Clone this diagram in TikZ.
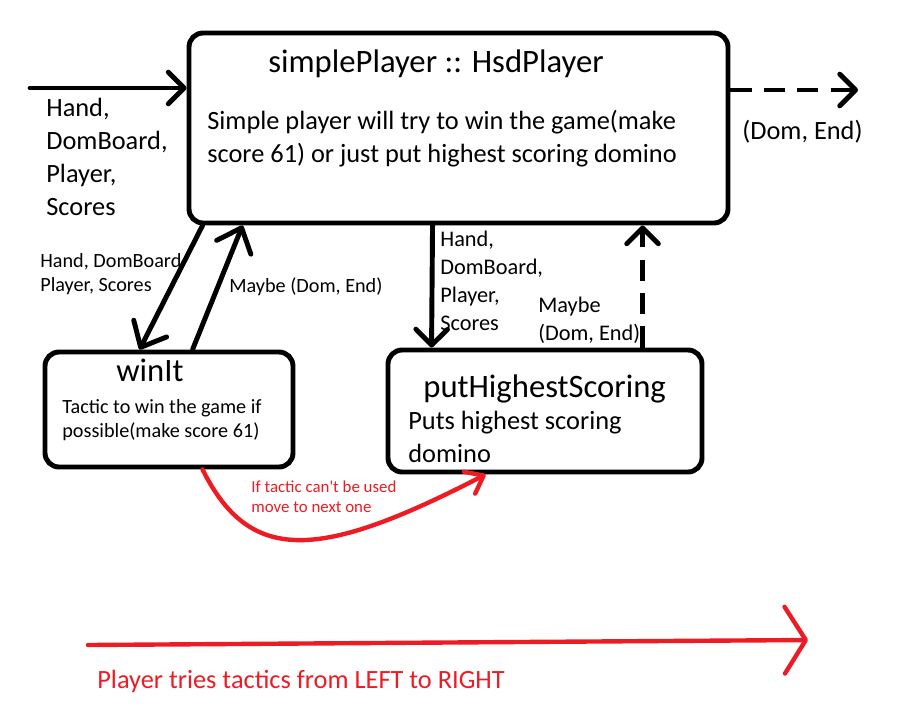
\documentclass[tikz,border=0pt]{standalone}
\usepackage{fontspec}
\setmainfont{Carlito}
\usepackage{tikz}
\usetikzlibrary{arrows.meta,positioning,calc,fit}
\definecolor{paintred}{RGB}{237,28,36}

\begin{document}
\begin{tikzpicture}[
  x=0.02cm, y=-0.02cm,
  block/.style={rectangle, draw, line width=2.8pt, rounded corners=8pt, inner sep=0pt},
  title/.style={anchor=base west, inner sep=0pt, font=\fontsize{18.6}{22}\selectfont},
  body/.style={anchor=base west, inner sep=0pt, align=left, font=\fontsize{15}{18.7}\selectfont},
  mid/.style={anchor=base west, inner sep=0pt, align=left, font=\fontsize{12.7}{15.9}\selectfont},
  small/.style={anchor=base west, inner sep=0pt, align=left, font=\fontsize{11.5}{13.6}\selectfont},
  arrow/.style={-{Straight Barb[length=9pt,width=18pt,round]}, line width=2.8pt, line cap=round},
  bigarrow/.style={-{Straight Barb[length=12pt,width=21pt,round]}, line width=2.8pt, line cap=round},
  dasharrow/.style={arrow, dash pattern=on 12pt off 7pt, line cap=butt},
  redarrow/.style={-{Straight Barb[length=12pt,width=38pt,round]}, line width=2.5pt,
                   paintred, line cap=round},
  redcurve/.style={-{Straight Barb[length=9pt,width=14pt,round]}, line width=2.5pt,
                   paintred, line cap=round}
]
\useasboundingbox (0,0) rectangle (908,717);

% boxes (multi-line texts sit on their last baseline)
\node[block, fit={(189,33) (728,223)}] (main) {};
\node[block, fit={(45,352) (293,467)}] (winit) {};
\node[block, fit={(388,350) (702,472)}] (puths) {};

\node[title] (maintitle) at (268,72) {simplePlayer :: HsdPlayer};
\node[body] (maintext) at (207,162) {Simple player will try to win the game(make\\score 61) or just put highest scoring domino};
\node[title] (wintitle) at (116,381) {winIt};
\node[small] (wintext) at (62,437) {Tactic to win the game if\\possible(make score 61)};
\node[title] (putstitle) at (423,397) {putHighestScoring};
\node[body] (putstext) at (408,462) {Puts highest scoring\\domino};

% input / output
\coordinate (in) at (30,88);
\coordinate (out) at (858,90);
\draw[arrow] (in) -- (main.west |- in);
\draw[dasharrow] (main.east |- out) -- (out);
\node[body] (inlabel) at (46,215) {Hand,\\DomBoard,\\Player,\\Scores};
\node[body] (outlabel) at (742,139) {(Dom, End)};

% tactics
\draw[bigarrow] ($(main.south west)+(16,0)$) -- ($(winit.north west)+(97,0)$);
\draw[bigarrow] ($(winit.north west)+(150,0)$) -- ($(main.south west)+(56,0)$);
\node[small] (winin) at (40,291) {Hand, DomBoard\\Player, Scores};
\node[small] (winout) at (229,292) {Maybe (Dom, End)};

\draw[arrow] ($(main.south west)+(246,0)$) -- ($(puths.north west)+(46,0)$);
\draw[dasharrow] ($(puths.north west)+(257,0)$) -- ($(main.south west)+(456,0)$);
\node[mid] (putin) at (440,330) {Hand,\\DomBoard,\\Player,\\Scores};
\node[mid] (putout) at (538,340) {Maybe\\(Dom, End)};

% next tactic
\draw[redcurve] ($(winit.south west)+(160,0)$) .. controls (250,565) and (320,560) .. ($(puths.south west)+(100,0)$);
\node[small, paintred, font=\fontsize{9.6}{11.3}\selectfont] (nextlabel) at (251,512) {If tactic can\textquotesingle t be used\\move to next one};

% order
\coordinate (rstart) at (88,645);
\coordinate (rend) at (808,640);
\draw[redarrow] (rstart) -- (rend);
\node[body, paintred] (orderlabel) at (97,688) {Player tries tactics from LEFT to RIGHT};
\end{tikzpicture}
\end{document}
